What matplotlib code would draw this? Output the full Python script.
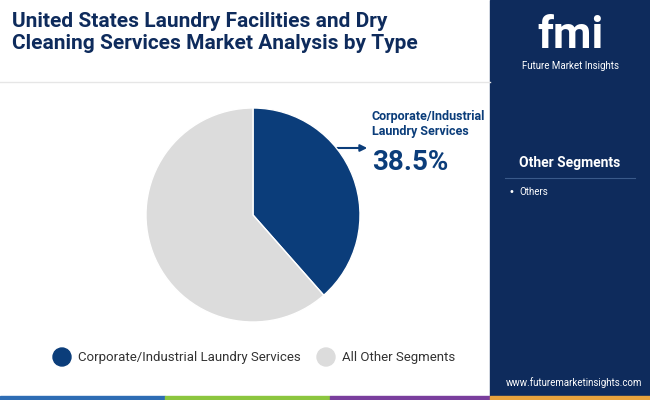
import matplotlib.pyplot as plt
from matplotlib.patches import Rectangle

categories = ["Corporate/Industrial Laundry Services", "All Other Segments"]
shares = [38.5, 61.5]
colors = ["#0b3d7a", "#dcdcdc"]
side_items = ["Others"]

W, H = 650, 400
fig = plt.figure(figsize=(6.5, 4.0), dpi=100)
bg = fig.add_axes([0, 0, 1, 1])
bg.set_xlim(0, W)
bg.set_ylim(H, 0)
bg.axis("off")

# right panel
bg.add_patch(Rectangle((490, 0), 160, 400, color="#0e2b5c"))
# bottom strip
for x0, x1, c in [(0, 165, "#2e6db4"), (165, 330, "#8cc63f"), (330, 490, "#7a3e9d"), (490, 650, "#e8a33d")]:
    bg.add_patch(Rectangle((x0, 396), x1 - x0, 4, color=c))

bg.text(12, 12, "United States Laundry Facilities and Dry\nCleaning Services Market Analysis by Type",
        fontsize=15, fontweight="bold", color="#0e2b5c", va="top", ha="left",
        linespacing=1.2, family="Roboto")
bg.plot([0, 490], [82, 82], color="#e6e6e6", lw=1)

# logo
bg.text(570, 36, "fmi", fontsize=32, fontweight="bold", color="white", ha="center", va="center", family="Roboto")
bg.text(570, 66, "Future Market Insights", fontsize=7, color="white", ha="center", va="center", family="Roboto")

bg.text(570, 163, "Other Segments", fontsize=10, fontweight="bold", color="white", ha="center", va="center", family="Roboto")
bg.plot([505, 635], [178, 178], color="#3a5a8a", lw=0.8)
for i, item in enumerate(side_items):
    bg.text(508, 192 + i * 16, "\u2022", fontsize=7, color="white", va="center")
    bg.text(519, 192 + i * 16, item, fontsize=7, color="white", va="center", family="Roboto")

bg.text(574, 383, "www.futuremarketinsights.com", fontsize=7, color="white", ha="center", va="center", family="Roboto")

# pie
pax = fig.add_axes([(253 - 107) / W, 1 - (215 + 107) / H, 214 / W, 214 / H])
pax.pie(shares, colors=colors, startangle=90, counterclock=False,
        wedgeprops=dict(edgecolor="white", linewidth=1))
pax.set_xlim(-1, 1)
pax.set_ylim(-1, 1)
pax.set_aspect("equal")

bg.annotate("", xy=(370, 148), xytext=(334, 148),
            arrowprops=dict(arrowstyle="-|>", color="#0b3d7a", lw=1.5))
bg.text(372, 124, "Corporate/Industrial\nLaundry Services", fontsize=9, fontweight="bold",
        color="#0b3d7a", ha="left", va="center", family="Roboto", linespacing=1.2)
bg.text(372, 163, f"{shares[0]}%", fontsize=20, fontweight="bold", color="#0b3d7a",
        ha="left", va="center", family="Roboto")

# legend
lx = [62, 326]
for x, lab, c in zip(lx, categories, colors):
    bg.add_patch(plt.Circle((x, 357), 9, color=c))
    bg.text(x + 16, 357, lab, fontsize=9.5, color="#333333", va="center", family="Roboto")

fig.savefig("out.png", dpi=100)
